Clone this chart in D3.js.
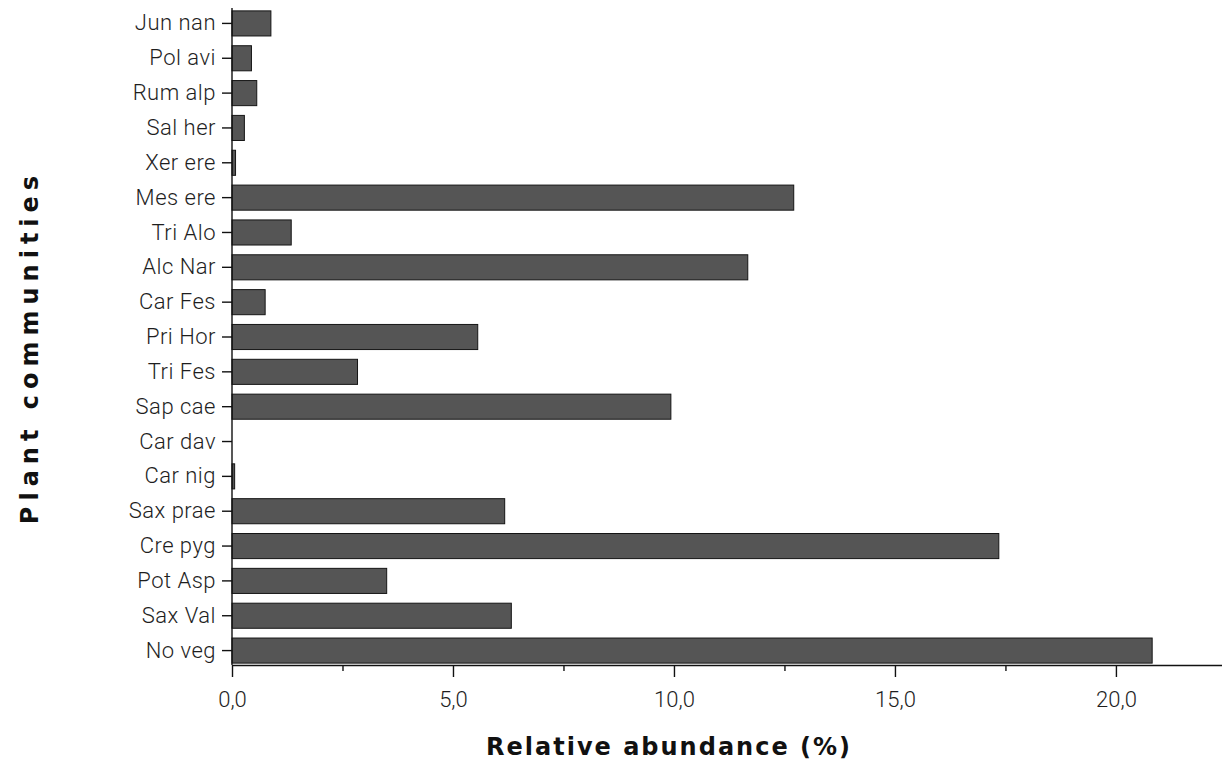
<!DOCTYPE html>
<html>
<head>
<meta charset="utf-8">
<script src="https://cdn.jsdelivr.net/npm/d3@7"></script>
<style>
  body { margin: 0; background: #fff; }
  svg { display: block; }
  .axis text { font-family: Roboto, "Liberation Sans", sans-serif; font-weight: 300; fill: #1e1e1e; }
  .axis path, .axis line { stroke: #111; stroke-width: 1.4px; }
  .title { font-family: "DejaVu Sans", sans-serif; font-weight: bold; fill: #111; }
</style>
</head>
<body>
<div id="chart"></div>
<script>
// data (top to bottom)
const communities = ["Jun nan", "Pol avi", "Rum alp", "Sal her", "Xer ere", "Mes ere", "Tri Alo",
  "Alc Nar", "Car Fes", "Pri Hor", "Tri Fes", "Sap cae", "Car dav", "Car nig", "Sax prae",
  "Cre pyg", "Pot Asp", "Sax Val", "No veg"];
const abundance = [0.88, 0.44, 0.56, 0.28, 0.08, 12.71, 1.34,
  11.67, 0.75, 5.56, 2.84, 9.93, 0.0, 0.06, 6.17,
  17.35, 3.5, 6.32, 20.82];
const majorTicks = [0, 5, 10, 15, 20];
const minorTicks = [2.5, 7.5, 12.5, 17.5];

const W = 1222, H = 771;
const mLeft = 232, mRight = 1222, mTop = 6, plotBottom = 668, axisY = 665;

const svg = d3.select("#chart").append("svg")
  .attr("width", W).attr("height", H);

const x = d3.scaleLinear().domain([0, 22.4]).range([mLeft, mRight]);
const y = d3.scaleBand().domain(communities).range([mTop, plotBottom])
  .paddingInner(0.28).paddingOuter(0.14);

const comma = d3.formatLocale({decimal: ",", thousands: ".", grouping: [3], currency: ["", ""]}).format(".1f");

// bars
svg.append("g").selectAll("rect")
  .data(communities)
  .enter().append("rect")
  .attr("x", x(0))
  .attr("y", d => y(d))
  .attr("width", (d, i) => x(abundance[i]) - x(0))
  .attr("height", y.bandwidth())
  .attr("fill", "#555555")
  .attr("stroke", "#151515")
  .attr("stroke-width", 1);

// x axis
const xAxis = svg.append("g").attr("class", "axis")
  .attr("transform", "translate(0," + axisY + ")")
  .call(d3.axisBottom(x).tickValues(majorTicks).tickFormat(comma).tickSize(12).tickSizeOuter(0).tickPadding(14));
xAxis.selectAll("text").style("font-size", "22px");

svg.append("g").attr("class", "axis")
  .attr("transform", "translate(0," + axisY + ")")
  .call(d3.axisBottom(x).tickValues(minorTicks).tickFormat("").tickSize(6).tickSizeOuter(0))
  .select(".domain").remove();

// y axis
const yAxis = svg.append("g").attr("class", "axis")
  .attr("transform", "translate(" + x(0) + ",0)")
  .call(d3.axisLeft(y).tickSize(10).tickSizeOuter(0).tickPadding(6));
yAxis.select(".domain").attr("d", "M0,8V" + axisY);
yAxis.selectAll("text").style("font-size", "22px").style("letter-spacing", "0.5px");

// titles
svg.append("text").attr("class", "title")
  .attr("x", 486).attr("y", 755)
  .style("font-size", "24px").style("letter-spacing", "2px")
  .text("Relative abundance (%)");

svg.append("text").attr("class", "title")
  .attr("transform", "translate(38,347) rotate(-90)")
  .attr("text-anchor", "middle")
  .style("font-size", "24px").style("letter-spacing", "6px")
  .text("Plant communities");
</script>
</body>
</html>
